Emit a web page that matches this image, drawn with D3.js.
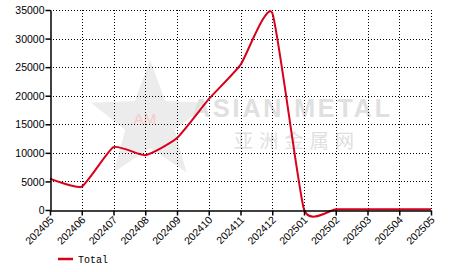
<!DOCTYPE html>
<html>
<head>
<meta charset="utf-8">
<script src="https://cdn.jsdelivr.net/npm/d3@7"></script>
<style>
  body { margin: 0; background: #fff; }
</style>
</head>
<body>
<div id="chart"></div>
<script>
// months and values
var months = ["202405", "202406", "202407", "202408", "202409", "202410", "202411",
              "202412", "202501", "202502", "202503", "202504", "202505"];
var totals = [5500, 4100, 11000, 9600, 12600, 19400, 25400, 34500, 100, 150, 150, 150, 150];
var yTicks = [0, 5000, 10000, 15000, 20000, 25000, 30000, 35000];
var seriesName = "Total";

var width = 466, height = 272;
var margin = {left: 50, right: 35, top: 10, bottom: 62};

var svg = d3.select("#chart").append("svg")
  .attr("width", width)
  .attr("height", height);

var x = d3.scalePoint().domain(months).range([margin.left, width - margin.right]);
var y = d3.scaleLinear().domain([0, 35000]).range([height - margin.bottom, margin.top]);

// watermark
var wm = svg.append("g");
var cx = 150, cy = 122, R = 62, r = 26;
var star = d3.range(10).map(function (i) {
  var a = -Math.PI / 2 + i * Math.PI / 5;
  var rr = i % 2 ? r : R;
  return [cx + rr * Math.cos(a), cy + rr * Math.sin(a)];
});
wm.append("polygon").attr("points", star.join(" ")).attr("fill", "#ececec");
wm.append("text").attr("x", 145).attr("y", 124).attr("text-anchor", "middle")
  .attr("font-family", "Liberation Sans, Arial").attr("font-size", 15)
  .attr("fill", "#f6caca").text("AM");
wm.append("text").attr("x", 192).attr("y", 117)
  .attr("font-family", "Liberation Sans, Arial").attr("font-weight", "bold")
  .attr("font-size", 25).attr("fill", "#e0e0e0").attr("textLength", 198)
  .text("ASIAN METAL");
wm.append("text").attr("x", 234).attr("y", 148)
  .attr("font-family", "Noto Sans CJK SC").attr("font-size", 19)
  .attr("fill", "#e0e0e0").attr("textLength", 120)
  .text("亚洲金属网");

// grid
var grid = svg.append("g").attr("stroke", "#000").attr("stroke-dasharray", "1,2").attr("stroke-width", 1);
grid.selectAll(".gy").data(yTicks.slice(1)).enter().append("line")
  .attr("x1", margin.left).attr("x2", width - margin.right)
  .attr("y1", function (d) { return Math.round(y(d)) + 0.5; })
  .attr("y2", function (d) { return Math.round(y(d)) + 0.5; });
grid.selectAll(".gx").data(months.slice(1)).enter().append("line")
  .attr("x1", function (d) { return Math.round(x(d)) + 0.5; })
  .attr("x2", function (d) { return Math.round(x(d)) + 0.5; })
  .attr("y1", margin.top).attr("y2", height - margin.bottom);

// line
var line = d3.line()
  .x(function (d, i) { return x(months[i]); })
  .y(function (d) { return y(d); })
  .curve(d3.curveCardinal.tension(0.5));

svg.append("path").datum(totals)
  .attr("d", line)
  .attr("fill", "none")
  .attr("stroke", "#d9001b")
  .attr("stroke-width", 2);

// axes
var yAxis = svg.append("g")
  .attr("transform", "translate(" + (margin.left + 0.5) + ",0)")
  .call(d3.axisLeft(y).tickValues(yTicks).tickSize(5).tickSizeOuter(0).tickFormat(d3.format("d")));
var xAxis = svg.append("g")
  .attr("transform", "translate(0," + (Math.round(y(0)) + 0.5) + ")")
  .call(d3.axisBottom(x).tickSize(5).tickSizeOuter(0));

[yAxis, xAxis].forEach(function (a) {
  a.select(".domain").attr("stroke", "#000").attr("stroke-width", 1.5);
  a.selectAll(".tick line").attr("stroke", "#000").attr("stroke-width", 1.5);
  a.selectAll("text").attr("fill", "#000")
    .attr("font-family", "Liberation Sans, Arial").attr("font-size", 10.5);
});
yAxis.selectAll("text").attr("x", -6).attr("dy", "0.35em");
xAxis.selectAll("text")
  .attr("text-anchor", "end")
  .attr("dy", 0).attr("y", 0)
  .attr("transform", "translate(4,10) rotate(-45)");

// legend
svg.append("line").attr("x1", 58).attr("x2", 73).attr("y1", 259).attr("y2", 259)
  .attr("stroke", "#d9001b").attr("stroke-width", 2.5);
svg.append("text").attr("x", 78).attr("y", 263)
  .attr("font-family", "Liberation Mono, Courier New, monospace").attr("font-size", 10)
  .attr("fill", "#000").text(seriesName);
</script>
</body>
</html>
